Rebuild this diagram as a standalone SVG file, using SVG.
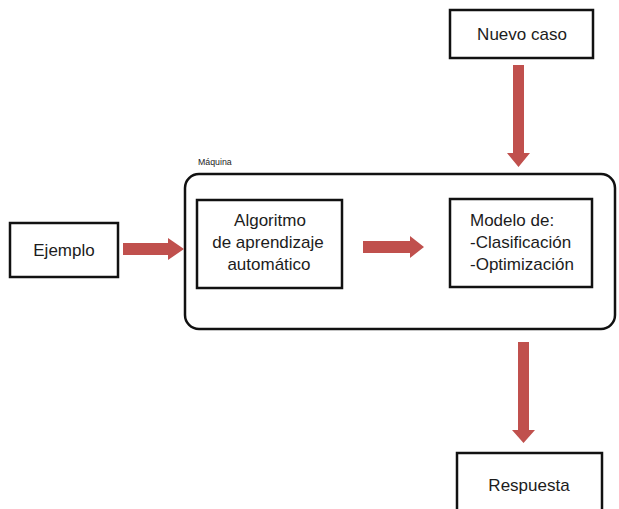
<svg xmlns="http://www.w3.org/2000/svg" width="619" height="509" viewBox="0 0 619 509">
<style>
.box{fill:#fff;stroke:#111;stroke-width:2.5}
.t{font-family:"Liberation Sans",Arial,sans-serif;font-size:17px;fill:#1c1c1c}
.c{text-anchor:middle}
.arr{fill:#c0504d}
</style>
<rect width="619" height="509" fill="#fff"/>
<g id="maquina">
<rect class="box" x="185" y="174" width="430" height="155" rx="14"/>
<text class="t" x="198" y="165" style="font-size:8.8px">Máquina</text>
</g>
<g id="ejemplo">
<rect class="box" x="10" y="223" width="108" height="54"/>
<text class="t c" x="64" y="256">Ejemplo</text>
</g>
<g id="algoritmo">
<rect class="box" x="197" y="200" width="145" height="88"/>
<text class="t c" x="270" y="226">Algoritmo</text>
<text class="t c" x="268" y="248">de aprendizaje</text>
<text class="t c" x="269" y="270">automático</text>
</g>
<g id="modelo">
<rect class="box" x="450" y="199" width="142" height="88"/>
<text class="t" x="470" y="226">Modelo de:</text>
<text class="t" x="470" y="248">-Clasificación</text>
<text class="t" x="470" y="270">-Optimización</text>
</g>
<g id="nuevo">
<rect class="box" x="450" y="10" width="143" height="48"/>
<text class="t c" x="522" y="40">Nuevo caso</text>
</g>
<g id="respuesta">
<rect class="box" x="457" y="453" width="145" height="70"/>
<text class="t c" x="529" y="491">Respuesta</text>
</g>
<g id="connectors">
<polygon class="arr" points="123,243 168,243 168,238 184,249 168,260 168,255 123,255"/>
<polygon class="arr" points="363,241 410,241 410,236 424,247 410,258 410,253 363,253"/>
<polygon class="arr" points="513,65 524,65 524,153 530,153 518.5,167 507,153 513,153"/>
<polygon class="arr" points="518,342 529,342 529,430 535,430 523.5,443 512,430 518,430"/>
</g>
</svg>
